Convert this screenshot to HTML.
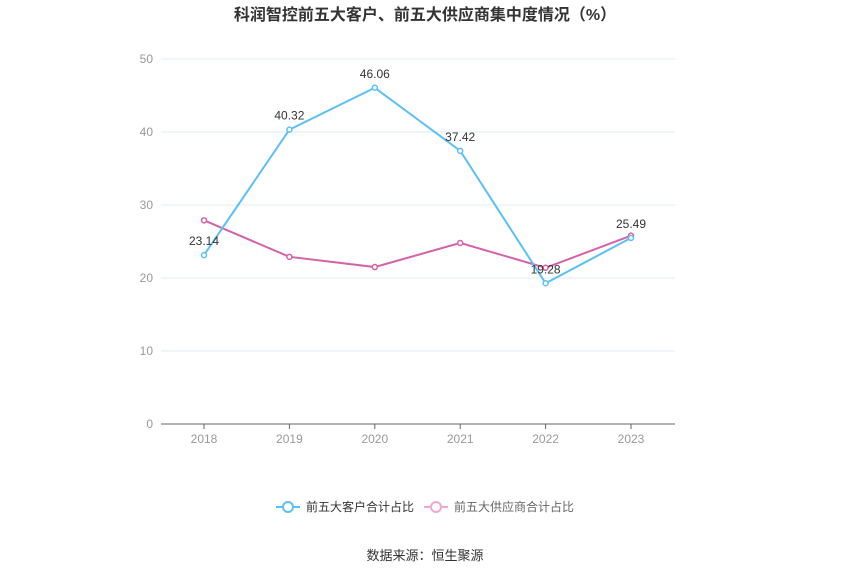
<!DOCTYPE html>
<html><head><meta charset="utf-8"><style>
body{margin:0;background:#fff;width:850px;height:574px;overflow:hidden;font-family:"Liberation Sans","Noto Sans CJK SC",sans-serif}
</style></head><body>
<svg width="850" height="574">
<text x="425" y="20" text-anchor="middle" font-size="16" font-weight="bold" fill="#333" font-family="Liberation Sans,Noto Sans CJK SC,sans-serif">科润智控前五大客户、前五大供应商集中度情况（%）</text>
<g id="grid"></g>
<g id="axes"></g>
<g id="series"></g>
<g>
<g>
<line x1="276" y1="507" x2="300" y2="507" stroke="#5bc0f5" stroke-width="2"/><circle cx="288" cy="507" r="5" fill="#fff" stroke="#5bc0f5" stroke-width="2"/>
<text x="306" y="511" font-size="12" fill="#333">前五大客户合计占比</text></g>
<g>
<line x1="424" y1="507" x2="448" y2="507" stroke="#f0a8d0" stroke-width="2"/><circle cx="436" cy="507" r="5" fill="#fff" stroke="#f0a8d0" stroke-width="2"/>
<text x="454" y="511" font-size="12" fill="#666">前五大供应商合计占比</text></g>
</g>
<text x="425" y="560" text-anchor="middle" font-size="13" fill="#333">数据来源：恒生聚源</text>
</svg>
<script>
const categories=["2018","2019","2020","2021","2022","2023"];
const customers=[23.14,40.32,46.06,37.42,19.28,25.49];
const suppliers=[27.9,22.9,21.5,24.8,21.4,25.8];
const yTicks=[0,10,20,30,40,50];
const NS="http://www.w3.org/2000/svg";
const x=i=>204+i*85.4;
const y=v=>424-v*7.3;
function mk(tag,attrs,parent,text){const e=document.createElementNS(NS,tag);for(const k in attrs)e.setAttribute(k,attrs[k]);if(text!==undefined)e.textContent=text;parent.appendChild(e);return e;}
const grid=document.getElementById('grid'),axes=document.getElementById('axes'),series=document.getElementById('series');
yTicks.forEach(t=>{
 const l=mk('line',{x1:161,x2:675,y1:y(t),y2:y(t),stroke:t===0?'#666':'#e3e8f0','stroke-width':1},grid);
 
 
 const tx=mk('text',{x:153,y:y(t)+4,'text-anchor':'end','font-size':12,fill:'#999'},axes,String(t));
 
 
});
categories.forEach((c,i)=>{
 const tk=mk('line',{x1:x(i),x2:x(i),y1:424,y2:429,stroke:'#666'},axes);
 
 
 const tx=mk('text',{x:x(i),y:443,'text-anchor':'middle','font-size':12,fill:'#999'},axes,c);
 
 
});
function draw(vals,color,name,labels){
 const p=mk('polyline',{points:vals.map((v,i)=>x(i)+','+y(v)).join(' '),fill:'none',stroke:color,'stroke-width':2},series);
 
 
 vals.forEach((v,i)=>{
  const c=mk('circle',{cx:x(i),cy:y(v),r:2.5,fill:'#fff',stroke:color,'stroke-width':1.5},series);
  
  
  if(labels){const t=mk('text',{x:x(i),y:y(v)-10,'text-anchor':'middle','font-size':12,fill:'#333'},series,v.toFixed(2));
  
  }
 });
}
draw(suppliers,'#d462a8','suppliers',false);
draw(customers,'#5bc0f5','customers',true);
</script>
</body></html>
